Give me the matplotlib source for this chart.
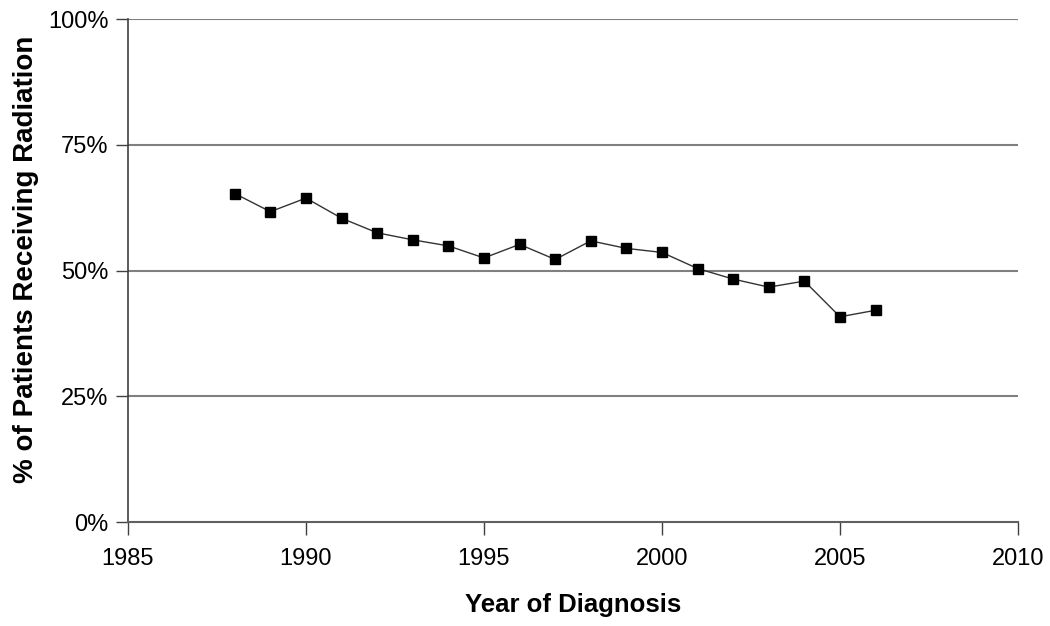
import matplotlib
matplotlib.use("Agg")
import matplotlib.pyplot as plt
from matplotlib.ticker import FuncFormatter

years = [1988, 1989, 1990, 1991, 1992, 1993, 1994, 1995, 1996, 1997,
         1998, 1999, 2000, 2001, 2002, 2003, 2004, 2005, 2006]
pct = [65.3, 61.7, 64.4, 60.4, 57.5, 56.1, 54.9, 52.5, 55.2, 52.2,
       55.9, 54.4, 53.6, 50.4, 48.3, 46.7, 47.9, 40.8, 42.1]
xticks = [1985, 1990, 1995, 2000, 2005, 2010]
yticks = [0, 25, 50, 75, 100]

plt.rcParams['font.family'] = ['Liberation Sans', 'DejaVu Sans']

fig = plt.figure(figsize=(10.5, 6.26), dpi=100)
ax = fig.add_axes([0.1219, 0.1661, 0.8476, 0.8035])

for v in yticks[1:]:
    ax.axhline(v, color='#808080', lw=1.5, zorder=1)

ax.plot(years, pct, color='#333333', lw=1.0, marker='s', markersize=6.5,
        markerfacecolor='black', markeredgecolor='black', zorder=3)

ax.set_xlim(1985, 2010)
ax.set_ylim(0, 100)
ax.set_xticks(xticks)
ax.set_yticks(yticks)
ax.yaxis.set_major_formatter(FuncFormatter(lambda v, p: f"{int(v)}%"))

for s in ['top', 'right']:
    ax.spines[s].set_visible(False)
ax.spines['left'].set_color('#404040')
ax.spines['bottom'].set_color('#606060')
ax.spines['left'].set_linewidth(1.2)
ax.spines['bottom'].set_linewidth(1.5)

ax.tick_params(axis='both', direction='out', length=9, width=1.0, color='#404040',
               labelsize=17, labelcolor='black')
ax.tick_params(axis='x', pad=10)
ax.tick_params(axis='y', pad=5)

ax.set_xlabel('Year of Diagnosis', fontsize=18.5, fontweight='bold', labelpad=16)
ax.set_ylabel('% of Patients Receiving Radiation', fontsize=20, fontweight='bold',
              va='center', ha='center')
ax.yaxis.set_label_coords(-0.1146, 0.522)

fig.savefig('out.png', dpi=100)
